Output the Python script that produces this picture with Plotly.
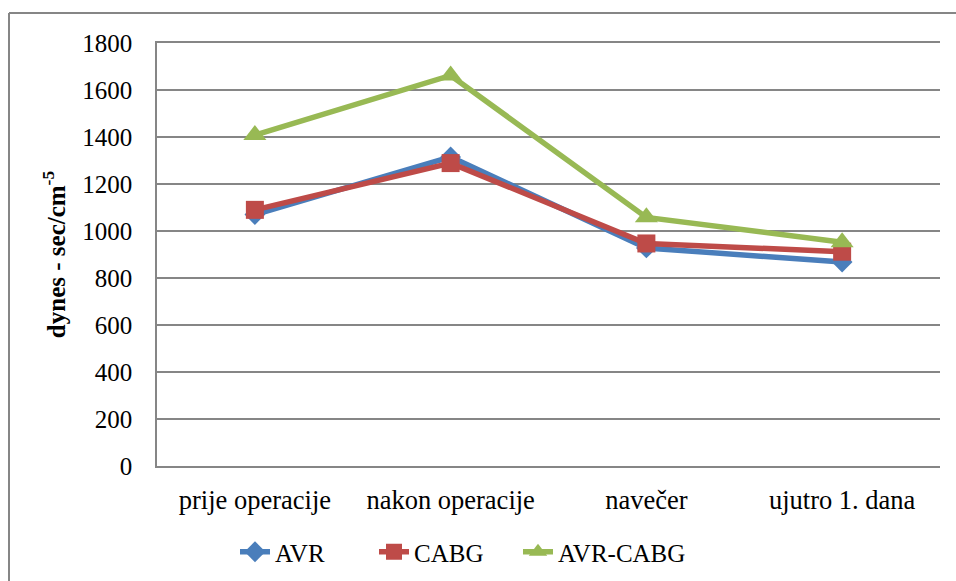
import plotly.graph_objects as go

categories = ["prije operacije", "nakon operacije", "navečer", "ujutro 1. dana"]
avr = [1070, 1315, 928, 868]
cabg = [1090, 1289, 947, 912]
avr_cabg = [1408, 1662, 1058, 952]
y_ticks = [0, 200, 400, 600, 800, 1000, 1200, 1400, 1600, 1800]

W, H = 956, 581
L, R, T, B = 157, 16, 43, 115
pw, ph = W - L - R, H - T - B

def px_x(px):
    return (px - L) / pw

def px_y(py):
    return (H - B - py) / ph

font_family = "Liberation Serif"

fig = go.Figure()
fig.add_trace(go.Scatter(x=categories, y=avr, name="AVR", mode="lines+markers",
                         line=dict(color="#4a7ebb", width=5.5),
                         marker=dict(symbol="diamond", size=16, color="#4a7ebb")))
fig.add_trace(go.Scatter(x=categories, y=cabg, name="CABG", mode="lines+markers",
                         line=dict(color="#be4b48", width=5.5),
                         marker=dict(symbol="square", size=18, color="#be4b48")))
fig.add_trace(go.Scatter(x=categories, y=avr_cabg, name="AVR-CABG", mode="lines+markers",
                         line=dict(color="#98b954", width=5.5),
                         marker=dict(symbol="triangle-up", size=20, color="#98b954"),
                         legend="legend2"))

fig.update_layout(
    width=W, height=H,
    margin=dict(l=L, r=R, t=T, b=B, autoexpand=False),
    paper_bgcolor="white", plot_bgcolor="white",
    font=dict(family=font_family, size=24, color="black"),
    showlegend=True,
    legend=dict(orientation="h", x=px_x(235), xanchor="left", y=px_y(552), yanchor="middle",
                font=dict(size=25, family=font_family), entrywidth=94, entrywidthmode="pixels",
                tracegroupgap=0, bgcolor="rgba(0,0,0,0)"),
    legend2=dict(orientation="h", x=px_x(518), xanchor="left", y=px_y(552), yanchor="middle",
                 font=dict(size=25, family=font_family),
                 tracegroupgap=0, bgcolor="rgba(0,0,0,0)"),
    xaxis=dict(showgrid=False, showline=True, linecolor="#868686", linewidth=1.5,
               ticks="", tickfont=dict(size=26.5, family=font_family), ticklabelstandoff=9,
               range=[-0.5, 3.5], mirror=True, automargin=False),
    yaxis=dict(range=[0, 1800], tickvals=y_ticks, ticktext=[str(v) for v in y_ticks],
               showgrid=True, gridcolor="#868686", gridwidth=1.5,
               showline=True, linecolor="#868686", linewidth=1.5, ticks="",
               tickfont=dict(size=25, family=font_family), ticklabelstandoff=18, zeroline=False,
               automargin=False,
               title=dict(text="<b>dynes - sec/cm<sup>-5</sup></b>",
                          font=dict(size=25, family=font_family), standoff=10)),
    shapes=[
        dict(type="line", xref="paper", yref="paper", x0=px_x(9), x1=px_x(960), y0=px_y(13), y1=px_y(13),
             line=dict(color="#868686", width=2)),
        dict(type="line", xref="paper", yref="paper", x0=px_x(9), x1=px_x(9), y0=px_y(13), y1=px_y(590),
             line=dict(color="#868686", width=2)),
    ],
)

fig.write_html("out.html", config={"displayModeBar": False},
               post_script="document.body.style.margin='0';document.body.style.overflow='hidden';")
